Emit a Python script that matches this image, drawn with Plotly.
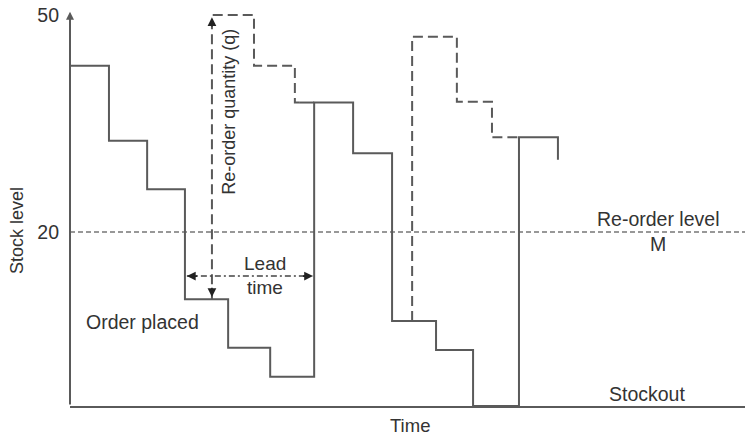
import plotly.graph_objects as go

# ---- data (time units, stock level units) ----
stock_t = [0, 1.01, 2.0, 2.98, 4.10, 5.19, 6.33, 7.34, 8.35, 9.49, 10.45, 11.64, 12.65]
stock_y = [43, 32.6, 25.9, 10.7, 4.0, 0.0, 37.9, 30.9, 7.7, 3.7, -4.06, 33.1, 30.0]

receipt_stub_t = [5.94, 6.33]
receipt_stub_y = [37.9, 37.9]

proj1_t = [3.68, 3.68, 4.77, 5.83, 5.94]
proj1_y = [10.7, 50.0, 43.0, 37.9, 37.9]

proj2_t = [8.87, 8.87, 10.03, 10.94, 11.64]
proj2_y = [7.7, 47.0, 38.0, 33.1, 33.1]

reorder_level = 20
lead_start, lead_end, lead_y = 3.03, 6.30, 13.9
q_t, q_top, q_bottom = 3.68, 49.7, 11.0

y_ticks = [20, 50]
y_ticklabels = ["20", "50"]

X_RANGE = [0, 17.5]
Y_RANGE = [-4.06, 50.42]

LINE = "#5a5a5a"
TEXT = "#333333"
FONT = "Liberation Sans, Arial, sans-serif"

fig = go.Figure()

# re-order level
fig.add_trace(go.Scatter(x=X_RANGE, y=[reorder_level, reorder_level], mode="lines",
                         line=dict(color="#777777", width=1.5, dash="5px,3px"),
                         hoverinfo="skip", showlegend=False))

# projected stock (dashed)
for tt, yy in [(proj1_t, proj1_y), (proj2_t, proj2_y)]:
    fig.add_trace(go.Scatter(x=tt, y=yy, mode="lines", line_shape="hv",
                             line=dict(color=LINE, width=2, dash="10px,5px"),
                             hoverinfo="skip", showlegend=False))

# actual stock (solid)
fig.add_trace(go.Scatter(x=stock_t, y=stock_y, mode="lines", line_shape="hv",
                         line=dict(color=LINE, width=2),
                         hoverinfo="skip", showlegend=False))
fig.add_trace(go.Scatter(x=receipt_stub_t, y=receipt_stub_y, mode="lines",
                         line=dict(color=LINE, width=2),
                         hoverinfo="skip", showlegend=False))

# lead time line (dash-dot)
fig.add_trace(go.Scatter(x=[lead_start, lead_end], y=[lead_y, lead_y], mode="lines",
                         line=dict(color="#444444", width=1.5, dash="6px,3px,2px,3px"),
                         hoverinfo="skip", showlegend=False))

annotations = []

def arrowhead(x, y, ax, ay, color="#222222"):
    annotations.append(dict(x=x, y=y, ax=ax, ay=ay, xref="x", yref="y",
                            axref="x", ayref="y", showarrow=True, arrowhead=2,
                            arrowsize=1.1, arrowwidth=1.6, arrowcolor=color, text=""))

# lead time arrowheads
arrowhead(lead_start, lead_y, lead_start + 0.3, lead_y)
arrowhead(lead_end, lead_y, lead_end - 0.3, lead_y)
# re-order quantity arrowheads
arrowhead(q_t, q_top, q_t, q_top - 1.5)
arrowhead(q_t, q_bottom, q_t, q_bottom + 1.5)
# y-axis with arrow
annotations.append(dict(x=0, y=50.45, ax=0, ay=Y_RANGE[0], xref="x", yref="y",
                        axref="x", ayref="y", showarrow=True, arrowhead=2,
                        arrowsize=0.8, arrowwidth=2, arrowcolor=LINE, text=""))

def label(text, x, y, size=19.5, angle=0, xref="x", yref="y"):
    annotations.append(dict(text=text, x=x, y=y, xref=xref, yref=yref, showarrow=False,
                            textangle=angle, xanchor="center", yanchor="middle",
                            font=dict(family=FONT, size=size, color=TEXT)))

label("Re-order quantity (q)", 4.12, 36.6, size=18, angle=-90)
label("Lead", 5.06, 15.7, size=19)
label("time", 5.06, 12.26, size=19)
label("Order placed", 1.89, 7.56)
label("Re-order level", 15.24, 21.8)
label("M", 15.24, 18.34)
label("Stockout", 14.96, -2.4)
label("Stock level", -0.0785, 0.444, size=18, angle=-90, xref="paper", yref="paper")
label("Time", 0.504, -0.049, size=18.5, xref="paper", yref="paper")

fig.update_layout(
    width=745, height=437,
    margin=dict(l=70, r=0, t=12, b=31),
    paper_bgcolor="white", plot_bgcolor="white",
    annotations=annotations,
    showlegend=False,
)
fig.update_xaxes(range=X_RANGE, showgrid=False, zeroline=False, showticklabels=False,
                 showline=True, linecolor=LINE, linewidth=2, ticks="")
fig.update_yaxes(range=Y_RANGE, showgrid=False, zeroline=False,
                 tickvals=y_ticks, ticktext=y_ticklabels, ticks="",
                 tickfont=dict(family=FONT, size=19.5, color=TEXT),
                 ticklabelstandoff=10, showline=False)

fig.write_html("out.html", config={"displayModeBar": False},
               post_script="document.body.style.margin='0';document.body.style.overflow='hidden';")
